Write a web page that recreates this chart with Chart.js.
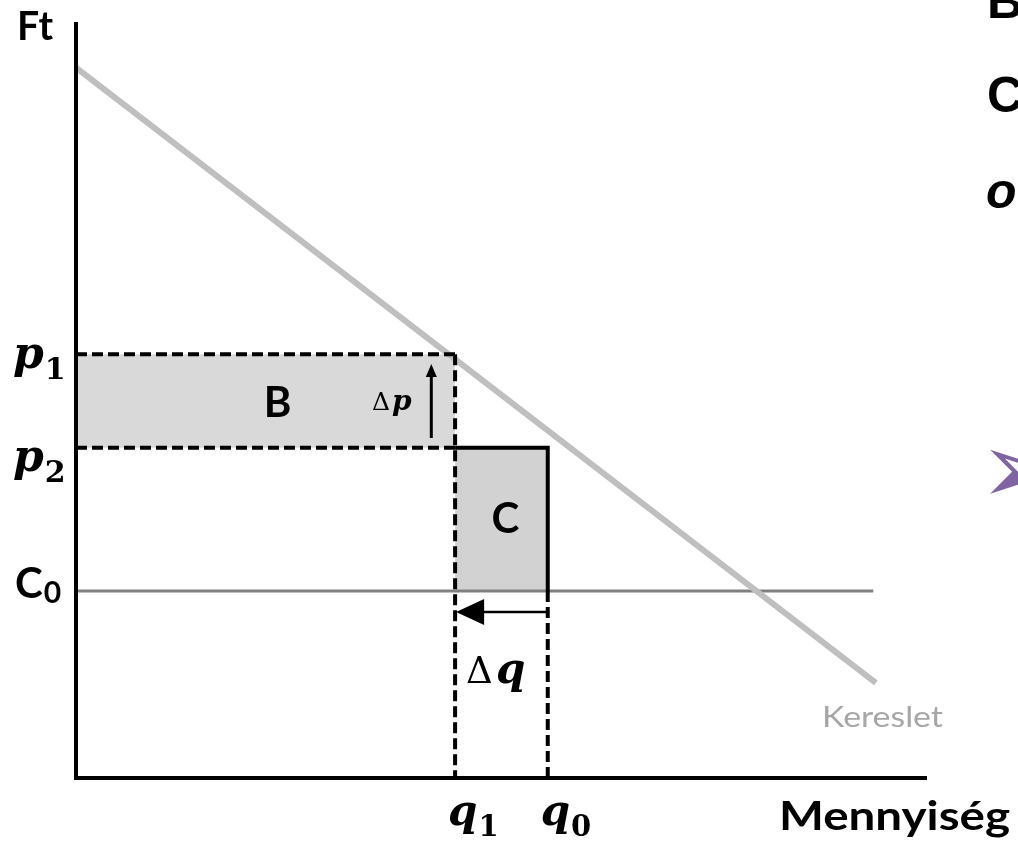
<!DOCTYPE html>
<html lang="hu">
<head>
<meta charset="utf-8">
<title>Kereslet – B és C terület</title>
<script src="https://cdn.jsdelivr.net/npm/chart.js@4"></script>
<style>
  html, body { margin: 0; padding: 0; background: #fff; }
  #wrap { width: 1018px; height: 847px; overflow: hidden; }
</style>
</head>
<body>
<div id="wrap"><canvas id="chart" width="1018" height="847"></canvas></div>
<script>
// ------------------------------------------------------------
// Data (quantity on x, Ft on y, both read off the picture 0..100)
// ------------------------------------------------------------
const demandQ = [0, 94.1];
const demandP = [94.2, 12.6];

const prices = [56.2, 43.8];      // p1, p2
const unitCost = 24.8;            // C0
const costLineEnd = 93.8;
const quantities = [44.6, 55.5];  // q1, q0

const dpArrowQ = 41.8;            // Δp arrow, at this quantity
const dpArrowP = [45.1, 54.9];    // from -> to
const dqArrowP = 22.0;            // Δq arrow runs q0 -> q1 at this price

// texts
const priceLabels = [['p', '1'], ['p', '2']];
const costLabel = ['C', '0'];
const qtyLabels = [['q', '1'], ['q', '0']];
const axisTitles = ['Ft', 'Mennyiség'];
const demandLabel = 'Kereslet';
const areaLabels = ['B', 'C'];
const deltaLabels = [['Δ', 'p'], ['Δ', 'q']];
const sideText = ['B', 'C', 'o'];
const bullet = '➢';

// ------------------------------------------------------------
const [p1, p2] = prices;
const [q1, q0] = quantities;
const pt = (x, y) => ({ x, y });

// higher `order` = drawn earlier (further back)
function dashed(points) {
  return { data: points, borderColor: '#000', borderWidth: 4, borderDash: [11, 5], order: 2 };
}

const datasets = [
  { data: [pt(0, p1), pt(q1, p1)], borderWidth: 0, backgroundColor: '#d9d9d9', fill: { value: p2 }, order: 9 },
  { data: [pt(q1, p2), pt(q0, p2)], borderWidth: 0, backgroundColor: '#d2d2d2', fill: { value: unitCost }, order: 8 },
  { data: [pt(0, unitCost), pt(costLineEnd, unitCost)], borderColor: '#808080', borderWidth: 3, order: 5 },
  { data: demandQ.map((q, i) => pt(q, demandP[i])), borderColor: '#bfbfbf', borderWidth: 6, order: 4 },
  dashed([pt(0, p1), pt(q1, p1)]),
  dashed([pt(0, p2), pt(q1, p2)]),
  dashed([pt(q1, p1), pt(q1, 0)]),
  dashed([pt(q0, unitCost), pt(q0, 0)]),
  { data: [pt(q1, p2), pt(q0, p2), pt(q0, unitCost)], borderColor: '#000', borderWidth: 4, order: 1 },
];

function arrowHead(ctx, tx, ty, dx, dy, len, half) {
  const bx = tx - dx * len, by = ty - dy * len;
  ctx.beginPath();
  ctx.moveTo(tx, ty);
  ctx.lineTo(bx - dy * half, by + dx * half);
  ctx.lineTo(bx + dy * half, by - dx * half);
  ctx.closePath();
  ctx.fill();
}

function mathLabel(ctx, base, sub, x, baseline, size) {
  ctx.font = `italic bold ${size}px "DejaVu Serif"`;
  ctx.fillText(base, x, baseline);
  const w = ctx.measureText(base).width;
  ctx.font = `bold ${Math.round(size * 0.68)}px "DejaVu Serif"`;
  ctx.fillText(sub, x + w + 1, baseline + size * 0.25);
}

// stretch a Lato string to the width it has in the picture (Calibri is wider)
function fitText(ctx, text, x, baseline, width) {
  const w = ctx.measureText(text).width;
  ctx.save();
  ctx.translate(x, baseline);
  ctx.scale(width / w, 1);
  ctx.fillText(text, 0, 0);
  ctx.restore();
}

const decorations = {
  id: 'decorations',
  afterDatasetsDraw(chart) {
    const { ctx, scales: { x, y } } = chart;
    ctx.save();
    ctx.fillStyle = '#000';
    ctx.strokeStyle = '#000';

    // Δp arrow (up)
    const ax = x.getPixelForValue(dpArrowQ);
    const aTop = y.getPixelForValue(dpArrowP[1]);
    ctx.lineWidth = 3;
    ctx.beginPath();
    ctx.moveTo(ax, y.getPixelForValue(dpArrowP[0]));
    ctx.lineTo(ax, aTop + 10);
    ctx.stroke();
    arrowHead(ctx, ax, aTop, 0, -1, 13, 5.5);

    // Δq arrow (left)
    const ay = y.getPixelForValue(dqArrowP);
    const tip = x.getPixelForValue(q1) + 1;
    ctx.lineWidth = 2.5;
    ctx.beginPath();
    ctx.moveTo(x.getPixelForValue(q0), ay);
    ctx.lineTo(tip + 26, ay);
    ctx.stroke();
    arrowHead(ctx, tip, ay, -1, 0, 28, 13);
    ctx.restore();
  },
  afterDraw(chart) {
    const { ctx, scales: { x, y } } = chart;
    const left = x.left, bottom = y.bottom;
    ctx.save();
    ctx.fillStyle = '#000';
    ctx.textBaseline = 'alphabetic';
    ctx.textAlign = 'left';

    // price labels
    const pNudge = [14, 23];
    priceLabels.forEach((l, i) => mathLabel(ctx, l[0], l[1], left - 63, y.getPixelForValue(prices[i]) + pNudge[i], 44));
    // quantity labels
    qtyLabels.forEach((l, i) => mathLabel(ctx, l[0], l[1], x.getPixelForValue(quantities[i]) - 7, bottom + 47, 42));

    // C0
    const cy = y.getPixelForValue(unitCost);
    ctx.font = 'bold 42px Lato';
    ctx.fillText(costLabel[0], left - 61, cy + 7);
    const cw = ctx.measureText(costLabel[0]).width;
    ctx.font = 'bold 30px Lato';
    ctx.fillText(costLabel[1], left - 61 + cw + 1, cy + 12);

    // axis titles
    ctx.font = 'bold 40px Lato';
    fitText(ctx, axisTitles[0], 17, 40, 36);
    ctx.font = 'bold 40px Lato';
    fitText(ctx, axisTitles[1], 779, bottom + 52, 231);

    // demand label
    ctx.fillStyle = '#a6a6a6';
    ctx.font = '29px Lato';
    fitText(ctx, demandLabel, 822, 727, 121);

    // area labels
    ctx.fillStyle = '#000';
    ctx.textAlign = 'center';
    ctx.font = 'bold 42px Lato';
    ctx.fillText(areaLabels[0], x.getPixelForValue(q1 / 2) + 12, (y.getPixelForValue(p1) + y.getPixelForValue(p2)) / 2 + 16);
    ctx.fillText(areaLabels[1], x.getPixelForValue((q1 + q0) / 2) + 4, (y.getPixelForValue(p2) + cy) / 2 + 14);

    // Δp / Δq
    ctx.textAlign = 'left';
    ctx.font = '25px "DejaVu Serif"';
    ctx.fillText(deltaLabels[0][0], 372, 410);
    ctx.font = 'italic bold 28px "DejaVu Serif"';
    ctx.fillText(deltaLabels[0][1], 392, 410);
    ctx.font = '37px "DejaVu Serif"';
    ctx.fillText(deltaLabels[1][0], 466, 683);
    ctx.font = 'italic bold 42px "DejaVu Serif"';
    ctx.fillText(deltaLabels[1][1], 496, 683);

    // cut-off slide text on the right edge
    ctx.font = 'bold 50px "Liberation Sans"';
    ctx.fillText(sideText[0], 987, 18);
    ctx.fillText(sideText[1], 987, 112);
    ctx.font = 'italic bold 50px "Liberation Sans"';
    ctx.fillText(sideText[2], 986, 208);
    ctx.fillStyle = '#8064a2';
    ctx.font = '100px "DejaVu Sans"';
    ctx.fillText(bullet, 979, 503);
    ctx.restore();
  }
};

new Chart(document.getElementById('chart'), {
  type: 'line',
  data: { datasets },
  options: {
    responsive: false,
    devicePixelRatio: 1,
    animation: false,
    events: [],
    layout: { padding: { left: 76, right: 92, top: 24, bottom: 69 } },
    elements: {
      point: { radius: 0, hoverRadius: 0 },
      line: { tension: 0, borderCapStyle: 'butt', fill: false },
    },
    plugins: { legend: { display: false }, tooltip: { enabled: false } },
    scales: {
      x: {
        type: 'linear', min: 0, max: 100,
        grid: { display: false, drawTicks: false },
        ticks: { display: false },
        border: { display: true, color: '#000', width: 4, z: 1 },
      },
      y: {
        type: 'linear', min: 0, max: 100,
        grid: { display: false, drawTicks: false },
        ticks: { display: false },
        border: { display: true, color: '#000', width: 4, z: 1 },
      },
    },
  },
  plugins: [decorations],
});
</script>
</body>
</html>
